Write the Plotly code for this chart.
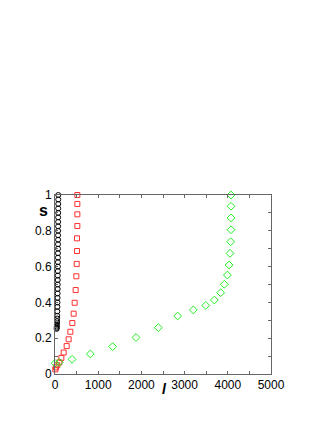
import plotly.graph_objects as go

# black circles
black_s = [1.0, 0.975, 0.95, 0.925, 0.9, 0.875, 0.85, 0.825, 0.8, 0.775, 0.75, 0.725,
           0.7, 0.675, 0.65, 0.625, 0.6, 0.575, 0.55, 0.525, 0.5, 0.475, 0.45, 0.425,
           0.4, 0.375, 0.35, 0.325, 0.31, 0.295, 0.285, 0.275, 0.265, 0.258, 0.252]
black_l = [76, 75, 75, 74, 74, 73, 73, 72, 72, 71, 71, 70,
           70, 69, 68, 68, 67, 66, 65, 64, 63, 62, 61, 60,
           58, 56, 54, 52, 50, 48, 46, 44, 42, 40, 38]

# red squares
red_s = [0.026, 0.037, 0.049, 0.065, 0.09, 0.12, 0.156, 0.194, 0.236, 0.285, 0.337,
         0.398, 0.469, 0.546, 0.615, 0.687, 0.758, 0.827, 0.892, 0.95, 1.0]
red_l = [7, 23, 53, 100, 147, 201, 270, 316, 355, 401, 432,
         455, 478, 494, 502, 509, 509, 517, 517, 517, 517]

# green diamonds
green_s = [0.06, 0.065, 0.082, 0.112, 0.153, 0.204, 0.259, 0.324, 0.358, 0.383, 0.413,
           0.454, 0.501, 0.553, 0.609, 0.674, 0.739, 0.806, 0.872, 0.937, 1.0]
green_l = [0, 100, 395, 818, 1335, 1875, 2392, 2840, 3202, 3490, 3688,
           3835, 3920, 3990, 4028, 4051, 4067, 4074, 4074, 4074, 4074]

fig = go.Figure()
fig.add_trace(go.Scatter(x=black_l, y=black_s, mode="markers",
                         marker=dict(symbol="circle-open", size=5, color="black",
                                     line=dict(width=1, color="black")), cliponaxis=False))
fig.add_trace(go.Scatter(x=red_l, y=red_s, mode="markers",
                         marker=dict(symbol="square-open", size=5, color="#ff3030",
                                     line=dict(width=1, color="#ff3030")), cliponaxis=False))
fig.add_trace(go.Scatter(x=green_l, y=green_s, mode="markers",
                         marker=dict(symbol="diamond-open", size=6, color="#22ee22",
                                     line=dict(width=1, color="#22ee22")), cliponaxis=False))

axis_common = dict(showgrid=False, zeroline=False, showline=True, linecolor="#666",
                   linewidth=1, mirror="ticks", ticks="inside", ticklen=3,
                   tickcolor="#666", tickfont=dict(family="Liberation Sans", size=12, color="black"))
fig.update_xaxes(range=[0, 5000], dtick=1000, tick0=0,
                 minor=dict(dtick=500, ticks="inside", ticklen=3, tickcolor="#666"),
                 **axis_common)
fig.update_yaxes(range=[0, 1], dtick=0.2, tick0=0,
                 minor=dict(dtick=0.1, ticks="inside", ticklen=3, tickcolor="#666"),
                 **axis_common)

fig.add_annotation(text="<b>s</b>", x=-12/216, y=(374-210)/179, xref="x domain", yref="y domain",
                   xanchor="center", yanchor="middle",
                   showarrow=False, font=dict(family="Liberation Sans", size=16, color="black"))
fig.add_annotation(text="<b><i>l</i></b>", x=(164-55)/216, y=-(389-374)/179, xref="x domain", yref="y domain",
                   xanchor="center", yanchor="middle",
                   showarrow=False, font=dict(family="Liberation Sans", size=14, color="black"))

fig.update_layout(width=327, height=423, showlegend=False,
                  margin=dict(l=47, r=64, t=187, b=57),
                  paper_bgcolor="white", plot_bgcolor="white")
fig.write_html("out.html")
